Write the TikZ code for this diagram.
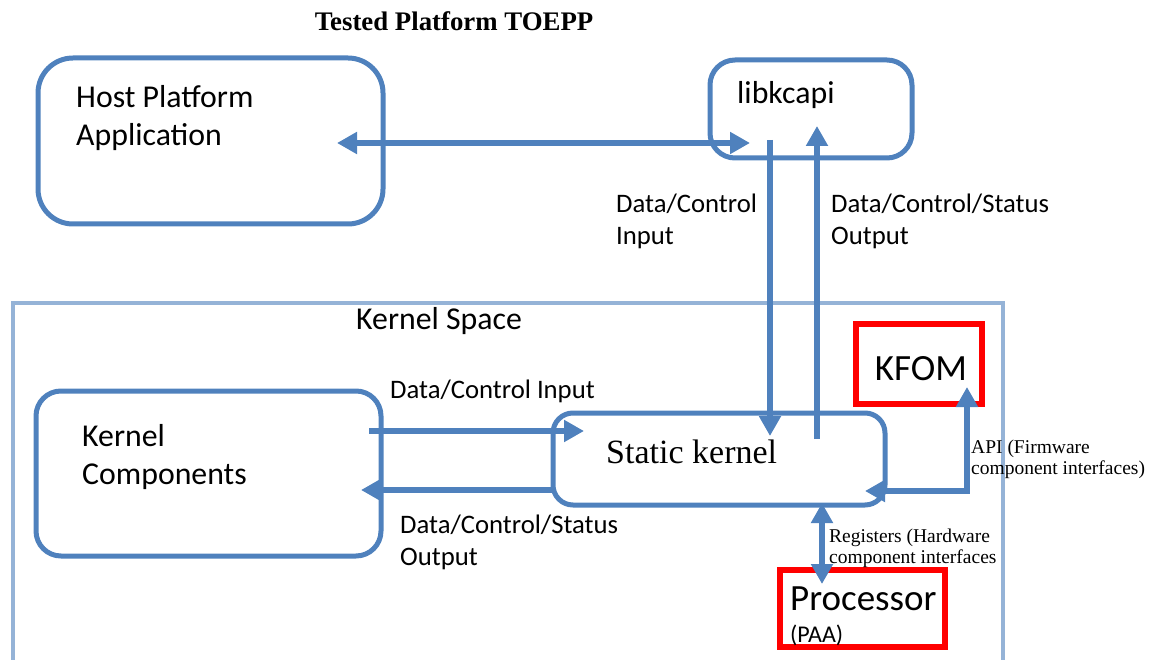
\documentclass[tikz,border=0pt]{standalone}
\usepackage{fontspec}
\setmainfont{Carlito}
\newfontfamily\serifcam{Liberation Serif}
\usetikzlibrary{arrows.meta}
\definecolor{oblue}{HTML}{4F81BD}
\definecolor{lblue}{HTML}{95B3D7}
\definecolor{kred}{HTML}{FF0000}
\tikzset{
  bbox/.style={draw=oblue, line width=5pt, rounded corners=#1},
  rbox/.style={draw=kred, line width=6pt},
  conn/.style={draw=oblue, line width=6pt, -{Triangle[length=20pt,width=21pt]}},
  dconn/.style={draw=oblue, line width=6pt, {Triangle[length=20pt,width=21pt]}-{Triangle[length=20pt,width=21pt]}},
  txt/.style={anchor=base west, inner sep=0pt, font=\fontsize{26.7}{30}\selectfont},
  bigtxt/.style={anchor=base west, inner sep=0pt, font=\fontsize{31.8}{34}\selectfont},
  smalltxt/.style={anchor=base west, inner sep=0pt, font=\serifcam\fontsize{19.5}{21}\selectfont},
}
\begin{document}
\begin{tikzpicture}[x=1pt,y=-1pt]
\useasboundingbox (0,0) rectangle (1162,660);
% title
\node[anchor=base, inner sep=0pt, font=\serifcam\bfseries\fontsize{26.8}{28}\selectfont] (title) at (454,31) {Tested Platform TOEPP};
% kernel space frame
\draw[lblue, line width=4pt] (1003,672) -- (1003,303) -- (13,303) -- (13,672);
\node[bigtxt] (ks) at (356,330) {Kernel Space};
% boxes
\draw[bbox=35pt] (38,58) rectangle (383,224);
\node[bigtxt] (hostt1) at (76,108) {Host Platform};
\node[bigtxt] (hostt2) at (76,146) {Application};
\draw[bbox=25pt] (710,60) rectangle (912,158);
\node[bigtxt] (libt) at (737,104) {libkcapi};
\draw[bbox=25pt] (36,391) rectangle (381,556);
\node[bigtxt] (kct1) at (82,446) {Kernel};
\node[bigtxt] (kct2) at (82,484) {Components};
\draw[bbox=20pt] (553,413) rectangle (885,505);
\node[anchor=base west, inner sep=0pt, font=\serifcam\fontsize{34}{36}\selectfont] (skt) at (606,463) {Static kernel};
\draw[rbox] (856,324) rectangle (982,404);
\node[anchor=base, inner sep=0pt, font=\fontsize{37}{40}\selectfont] (kfomt) at (921,380) {KFOM};
\draw[rbox] (780,570) rectangle (945,647);
\node[anchor=base west, inner sep=0pt, font=\fontsize{37}{40}\selectfont] (proct) at (790,610) {Processor};
\node[anchor=base west, inner sep=0pt, font=\fontsize{24}{26}\selectfont] (paat) at (790,642) {(PAA)};
% connector coordinates
\coordinate (hostR) at (337,143);
\coordinate (libL) at (750,143);
\coordinate (libDownS) at (770,140);
\coordinate (skDownE) at (770,436);
\coordinate (skUpS) at (817,439);
\coordinate (libUpE) at (817,126);
\coordinate (kcR) at (369,431);
\coordinate (skL) at (584,431);
\coordinate (skLo) at (553,490);
\coordinate (kcRo) at (361,490);
\coordinate (skR) at (865,491);
\coordinate (apiC) at (967,491);
\coordinate (kfomB) at (967,387);
\coordinate (skB) at (822,503);
\coordinate (procT) at (822,584);
% connectors
\draw[dconn] (hostR) -- (libL);
\draw[conn] (libDownS) -- (skDownE);
\draw[conn] (skUpS) -- (libUpE);
\draw[conn] (kcR) -- (skL);
\draw[conn] (skLo) -- (kcRo);
\draw[dconn] (skR) -- (apiC) -- (kfomB);
\draw[dconn] (skB) -- (procT);
% labels
\node[txt] (l1a) at (616,213) {Data/Control};
\node[txt] (l1b) at (616,245) {Input};
\node[txt] (l2a) at (831,213) {Data/Control/Status};
\node[txt] (l2b) at (831,245) {Output};
\node[txt] (l3) at (390,398) {Data/Control Input};
\node[txt] (l4a) at (400,533) {Data/Control/Status};
\node[txt] (l4b) at (400,565) {Output};
\node[smalltxt] (l5a) at (971,453) {API (Firmware};
\node[smalltxt] (l5b) at (971,474) {component interfaces)};
\node[smalltxt] (l6a) at (829,542) {Registers (Hardware};
\node[smalltxt] (l6b) at (829,563) {component interfaces};
\end{tikzpicture}
\end{document}
